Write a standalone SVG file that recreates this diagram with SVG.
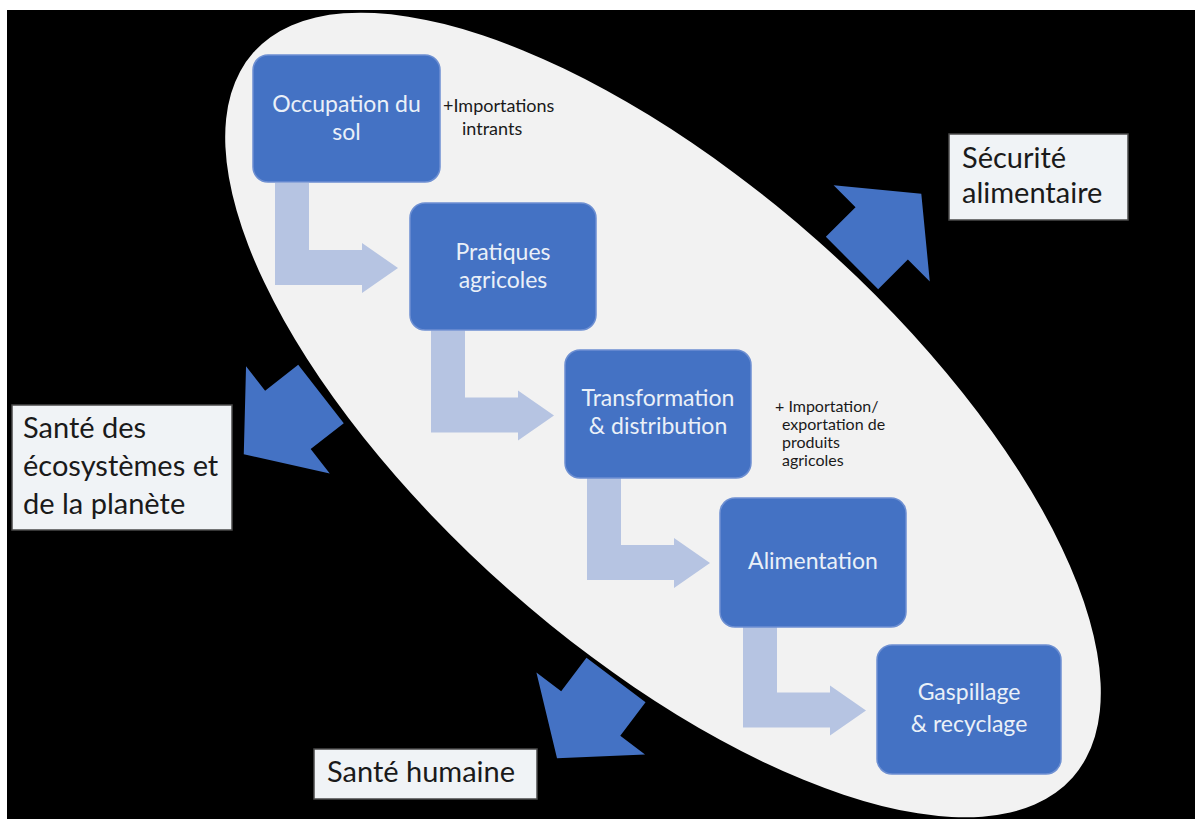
<svg xmlns="http://www.w3.org/2000/svg" width="1195" height="819" viewBox="0 0 1195 819">
<defs>
<style>
.box{fill:#4472c4;stroke:#6d8fd2;stroke-width:1.5}
.bt{font-family:Lato,"Liberation Sans",sans-serif;font-size:23px;fill:#eaf0f8;text-anchor:middle}
.side1{font-family:Lato,"Liberation Sans",sans-serif;font-size:18px;fill:#1a1a1a}
.side2{font-family:Lato,"Liberation Sans",sans-serif;font-size:16px;fill:#1a1a1a}
.lbl{fill:#f0f3f6;stroke:#4a4a4a;stroke-width:1.5}
.lt{font-family:Lato,"Liberation Sans",sans-serif;font-size:29px;fill:#1a1a1a}
.flow{fill:#b6c4e2}
.big{fill:#4472c4}
</style>
<polygon id="bigArrow" points="0,-37 42,-37 42,-68 98,0 42,68 42,37 0,37"/>
<path id="bent" d="M275,183 H309 V250 H362 V243 L398,268 L362,293 V285 H275 Z"/>
</defs>
<rect x="0" y="0" width="1195" height="819" fill="#ffffff"/>
<rect x="7" y="10" width="1188" height="809" fill="#000000"/>
<ellipse cx="663" cy="415" rx="547" ry="233" transform="rotate(41.5 663 415)" fill="#f2f2f2"/>

<g id="connectors">
<use href="#bent" class="flow"/>
<use href="#bent" class="flow" transform="translate(156 147.5)"/>
<use href="#bent" class="flow" transform="translate(312 295)"/>
<use href="#bent" class="flow" transform="translate(468 442.5)"/>
<use href="#bigArrow" class="big" transform="translate(852 263) rotate(-45)"/>
<use href="#bigArrow" class="big" transform="translate(321 394) rotate(142)"/>
<use href="#bigArrow" class="big" transform="translate(616 680) rotate(127)"/>
</g>

<g id="n1">
<rect class="box" x="253" y="55" width="187" height="127" rx="15"/>
<text class="bt" x="346.5" y="112">Occupation du</text>
<text class="bt" x="346.5" y="140">sol</text>
</g>
<g id="n1note">
<text class="side1" x="443" y="112">+Importations</text>
<text class="side1" x="462" y="135">intrants</text>
</g>
<g id="n2">
<rect class="box" x="410" y="203" width="186" height="127" rx="15"/>
<text class="bt" x="503" y="260">Pratiques</text>
<text class="bt" x="503" y="288">agricoles</text>
</g>
<g id="n3">
<rect class="box" x="565" y="350" width="186" height="128" rx="15"/>
<text class="bt" x="658" y="406">Transformation</text>
<text class="bt" x="658" y="434">&amp; distribution</text>
</g>
<g id="n3note">
<text class="side2" x="775" y="412">+ Importation/</text>
<text class="side2" x="782" y="430">exportation de</text>
<text class="side2" x="782" y="448">produits</text>
<text class="side2" x="782" y="466">agricoles</text>
</g>
<g id="n4">
<rect class="box" x="720" y="498" width="186" height="129" rx="15"/>
<text class="bt" x="813" y="569">Alimentation</text>
</g>
<g id="n5">
<rect class="box" x="877" y="645" width="184" height="129" rx="15"/>
<text class="bt" x="969" y="700">Gaspillage</text>
<text class="bt" x="969" y="732">&amp; recyclage</text>
</g>

<g id="securite">
<rect class="lbl" x="949" y="134" width="179" height="86"/>
<text class="lt" x="962" y="168">Sécurité</text>
<text class="lt" x="962" y="203">alimentaire</text>
</g>
<g id="ecosystemes">
<rect class="lbl" x="12" y="405" width="220" height="125"/>
<text class="lt" x="23" y="438">Santé des</text>
<text class="lt" x="23" y="476">écosystèmes et</text>
<text class="lt" x="23" y="514">de la planète</text>
</g>
<g id="humaine">
<rect class="lbl" x="314" y="749" width="223" height="50"/>
<text class="lt" x="327" y="782">Santé humaine</text>
</g>
</svg>
